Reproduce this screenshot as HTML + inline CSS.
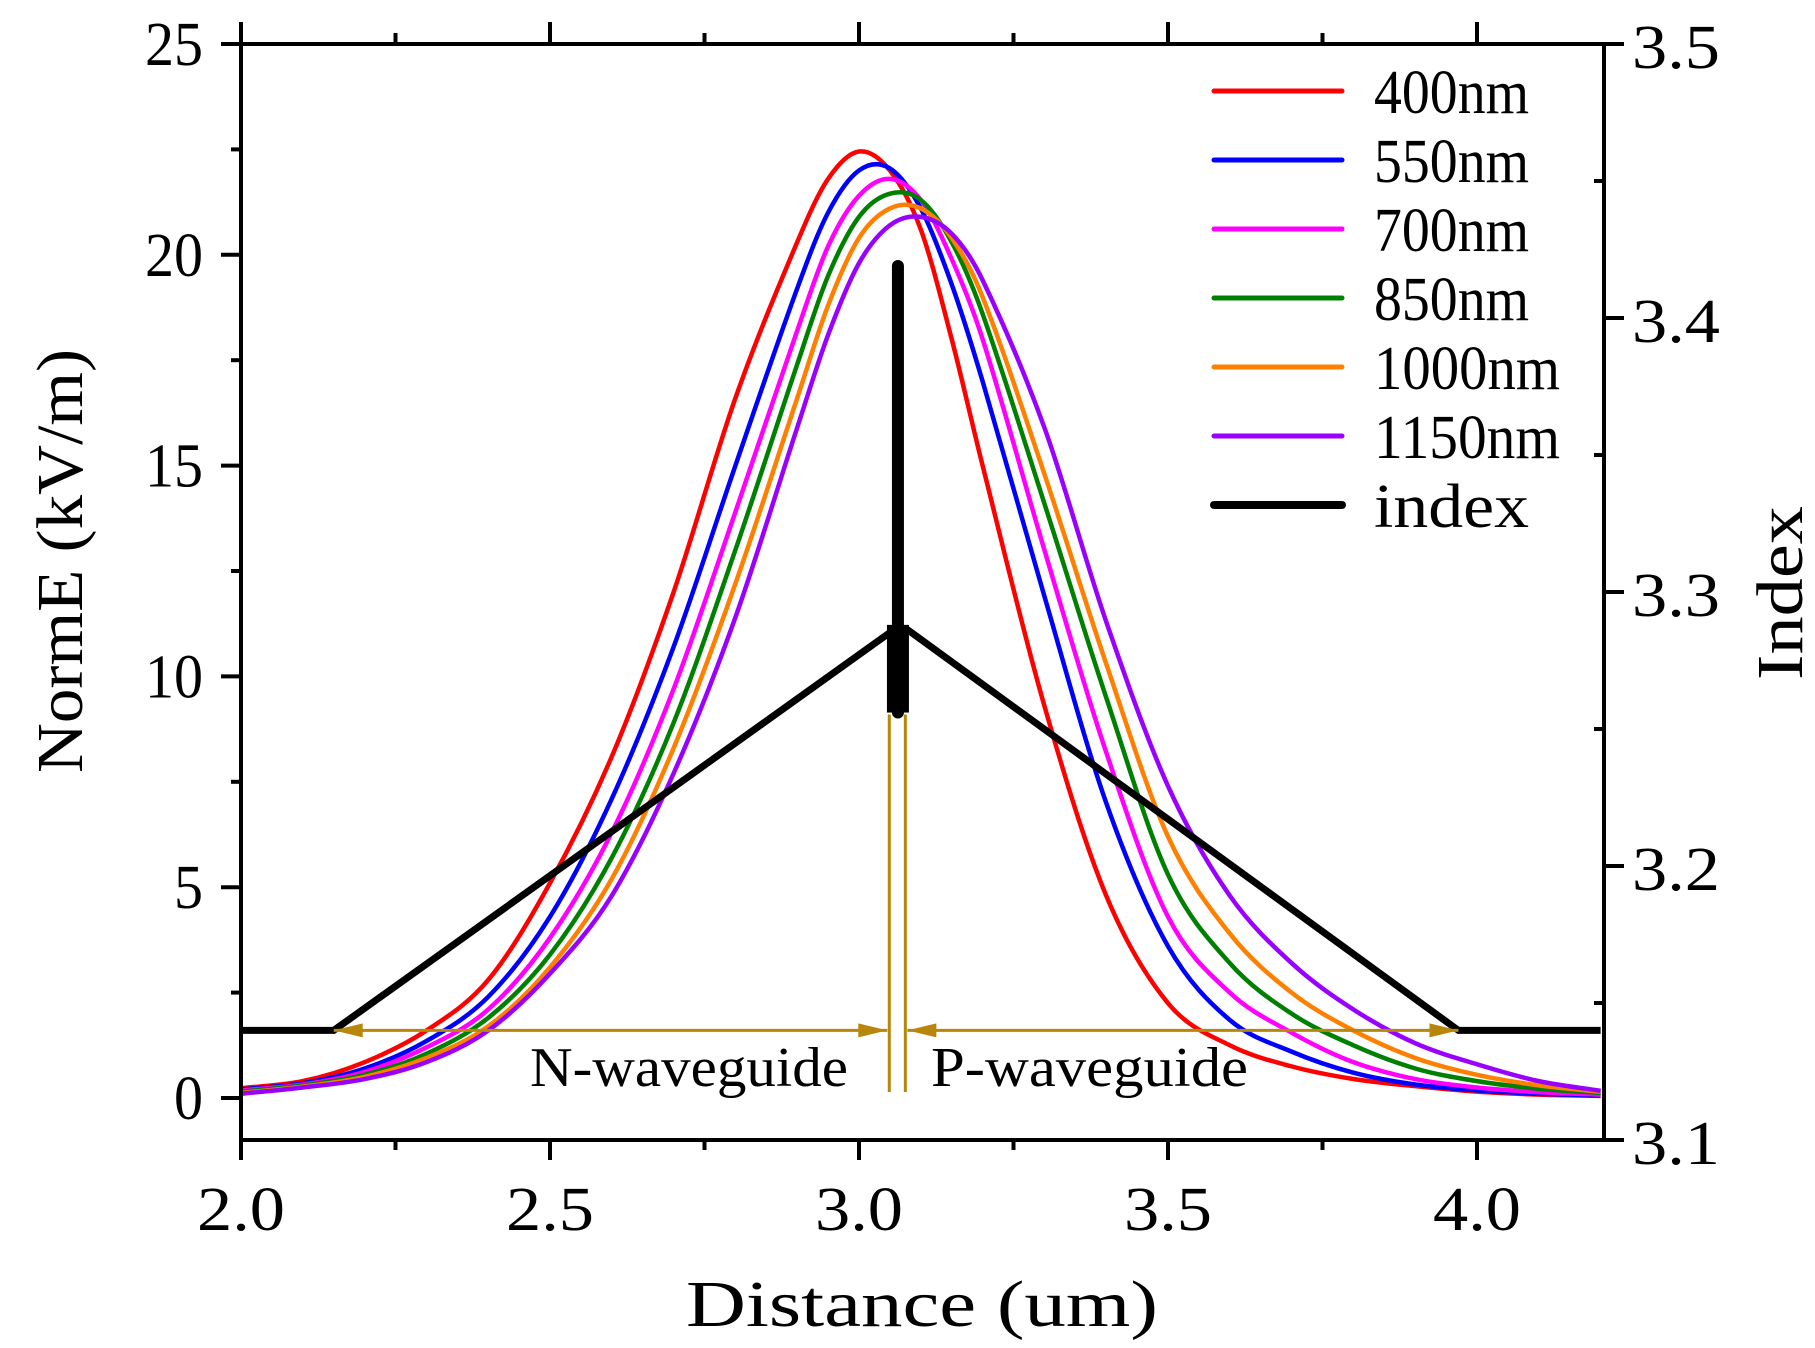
<!DOCTYPE html>
<html><head><meta charset="utf-8"><style>
html,body{margin:0;padding:0;background:#fff;}
svg{display:block;}
text{font-family:"Liberation Serif","Noto Serif CJK SC",serif;fill:#000;}
</style></head><body>
<svg id="chart" width="1815" height="1348" viewBox="0 0 1815 1348" xmlns="http://www.w3.org/2000/svg">
<g id="marks"></g>
<g id="axes"></g>
</svg>
<script>
const xs = [2.0,2.1,2.2,2.3,2.4,2.5,2.6,2.7,2.8,2.9,2.95,3.0,3.05,3.1,3.15,3.2,3.3,3.4,3.5,3.6,3.7,3.8,3.9,4.0,4.1,4.2];
const s400  = [.23,.4,.85,1.6,2.8,5.1,8.1,12.0,16.6,20.3,21.8,22.45,22.0,20.6,18.0,15.0,9.3,4.8,2.25,1.25,.75,.45,.28,.15,.08,.05];
const s550  = [.2,.35,.7,1.35,2.4,4.3,7.1,10.7,15.0,19.2,21.0,22.0,22.05,21.1,19.3,17.0,11.9,7.0,3.6,1.85,1.1,.6,.32,.18,.1,.06];
const s700  = [.18,.32,.62,1.2,2.1,3.8,6.3,9.7,13.9,18.2,20.2,21.4,21.8,21.3,19.9,18.0,13.0,8.2,4.3,2.5,1.55,.85,.45,.25,.14,.08];
const s850  = [.15,.3,.55,1.05,1.9,3.4,5.7,8.9,13.0,17.4,19.5,20.9,21.45,21.3,20.3,18.6,14.1,9.5,5.3,3.2,2.0,1.25,.7,.4,.22,.12];
const s1000 = [.12,.27,.5,.95,1.7,3.1,5.2,8.3,12.2,16.6,18.8,20.4,21.1,21.1,20.4,19.0,14.8,10.3,6.2,3.9,2.5,1.6,.95,.55,.3,.15];
const s1150 = [.1,.25,.45,.85,1.6,2.95,4.8,7.7,11.4,15.9,18.1,19.8,20.7,20.9,20.5,19.4,15.9,11.3,7.4,4.8,3.2,2.1,1.3,.8,.4,.17];
const seriesNames = ["400nm","550nm","700nm","850nm","1000nm","1150nm"];
const seriesColors = ["#ff0000","#0000ff","#ff00ff","#008000","#ff8000","#9900ff"];
const idxX = [2.0,2.15,3.055,3.08,3.97,4.2];
const idxY = [3.14,3.14,3.286,3.286,3.14,3.14];
const spikeX = [3.063,3.063];
const spikeY = [3.256,3.419];
const xTicks = ["2.0","2.5","3.0","3.5","4.0"];
const yTicks = ["0","5","10","15","20","25"];
const rTicks = ["3.1","3.2","3.3","3.4","3.5"];
const junctionX = [3.049,3.075];

const NS="http://www.w3.org/2000/svg";
const X=v=>241+(v-2)*618;
const Y=v=>1098-v*42.16;
const YR=v=>1140-(v-3.1)*2740;
const marks=document.getElementById('marks'), axes=document.getElementById('axes');
function mk(tag,attrs,parent){const e=document.createElementNS(NS,tag);for(const k in attrs)e.setAttribute(k,attrs[k]);parent.appendChild(e);return e;}
function hermite(xv,yv){const n=xv.length,m=[];
for(let i=0;i<n;i++){if(i===0)m.push((yv[1]-yv[0])/(xv[1]-xv[0]));else if(i===n-1)m.push((yv[n-1]-yv[n-2])/(xv[n-1]-xv[n-2]));else m.push((yv[i+1]-yv[i-1])/(xv[i+1]-xv[i-1]));}
let d=`M${X(xv[0])},${Y(yv[0])}`;
for(let i=0;i<n-1;i++){const h=xv[i+1]-xv[i];
const c1x=xv[i]+h/3,c1y=yv[i]+m[i]*h/3,c2x=xv[i+1]-h/3,c2y=yv[i+1]-m[i+1]*h/3;
d+=` C${X(c1x)},${Y(c1y)} ${X(c2x)},${Y(c2y)} ${X(xv[i+1])},${Y(yv[i+1])}`;}return d;}

[s400,s550,s700,s850,s1000,s1150].forEach((s,i)=>{
  const p=mk('path',{d:hermite(xs,s),fill:'none',stroke:seriesColors[i],'stroke-width':4.5},marks);
  
  
});
const il=mk('polyline',{points:idxX.map((x,j)=>X(x)+','+YR(idxY[j])).join(' '),fill:'none',stroke:'#000','stroke-width':7},marks);


const sp=mk('line',{x1:X(spikeX[0]),y1:YR(spikeY[0]),x2:X(spikeX[1]),y2:YR(spikeY[1]),stroke:'#000','stroke-width':12,'stroke-linecap':'round'},marks);


const sb=mk('rect',{x:X(spikeX[0])-11,y:YR(3.288),width:22,height:YR(3.256)-YR(3.288),fill:'#000'},marks);


const brown='#b8860b';
junctionX.forEach(v=>{const l=mk('line',{x1:X(v),y1:YR(3.256)+2,x2:X(v),y2:1092,stroke:brown,'stroke-width':3},marks);

});
const ay=YR(3.14);
function arrow(x1,x2,name){const g=mk('g',{},marks);


mk('line',{x1:x1,y1:ay,x2:x2,y2:ay,stroke:brown,'stroke-width':3},g);
[[x1,1],[x2,-1]].forEach(([x,d])=>mk('polygon',{points:`${x},${ay} ${x+d*29},${ay-7} ${x+d*29},${ay+7}`,fill:brown},g));}
arrow(X(2.15),X(junctionX[0])-2,'n-waveguide-arrow');
arrow(X(junctionX[1])+2,X(3.97),'p-waveguide-arrow');
let t=mk('text',{x:530,y:1086,'font-size':56,textLength:318,lengthAdjust:'spacingAndGlyphs'},marks);t.textContent='N-waveguide';


t=mk('text',{x:931,y:1086,'font-size':56,textLength:317,lengthAdjust:'spacingAndGlyphs'},marks);t.textContent='P-waveguide';



const fr=mk('rect',{x:241,y:44,width:1363,height:1096,fill:'none',stroke:'#000','stroke-width':4},axes);


function tick(x1,y1,x2,y2){mk('line',{x1,y1,x2,y2,stroke:'#000','stroke-width':4},axes);}
for(let v=2.0;v<=4.201;v+=0.25){const x=X(v);const maj=Math.abs(v*2-Math.round(v*2))<1e-6;tick(x,1140,x,maj?1160:1150);tick(x,44,x,maj?22:33);}
for(let v=0;v<=25.01;v+=2.5){const y=Y(v);const maj=Math.abs(v/5-Math.round(v/5))<1e-6;tick(241,y,maj?221:231,y);}
for(let v=3.1;v<=3.501;v+=0.05){const y=YR(v);const maj=Math.abs(v*10-Math.round(v*10))<1e-6;if(maj)tick(1604,y,1624,y);else tick(1604,y,1594,y);}
xTicks.forEach(s=>{const e=mk('text',{x:X(+s),y:1230,'font-size':62,'text-anchor':'middle',textLength:88,lengthAdjust:'spacingAndGlyphs'},axes);e.textContent=s;

});
yTicks.forEach(s=>{const e=mk('text',{x:203,y:Y(+s)+21,'font-size':62,'text-anchor':'end',textLength:29*s.length,lengthAdjust:'spacingAndGlyphs'},axes);e.textContent=s;

});
rTicks.forEach(s=>{const e=mk('text',{x:1632,y:YR(+s)+24,'font-size':62,textLength:88,lengthAdjust:'spacingAndGlyphs'},axes);e.textContent=s;

});
t=mk('text',{x:922,y:1326,'font-size':66,'text-anchor':'middle',textLength:472,lengthAdjust:'spacingAndGlyphs'},axes);t.textContent='Distance (um)';


t=mk('text',{x:0,y:0,'font-size':66,'text-anchor':'middle',textLength:424,lengthAdjust:'spacingAndGlyphs',transform:'translate(82,561) rotate(-90)'},axes);t.textContent='NormE (kV/m)';


t=mk('text',{x:0,y:0,'font-size':66,'text-anchor':'middle',textLength:174,lengthAdjust:'spacingAndGlyphs',transform:'translate(1802,593) rotate(-90)'},axes);t.textContent='Index';



const legNames=seriesNames.concat(['index']);
const legColors=seriesColors.concat(['#000']);
legNames.forEach((n,i)=>{const y=91+i*69;const g=mk('g',{},axes);


mk('line',{x1:1214,y1:y,x2:1342,y2:y,stroke:legColors[i],'stroke-width':n==='index'?8:5,'stroke-linecap':'round'},g);
const e=mk('text',{x:1374,y:y+22,'font-size':62,textLength:31*n.length,lengthAdjust:'spacingAndGlyphs'},g);e.textContent=n;});
</script>
</body></html>
